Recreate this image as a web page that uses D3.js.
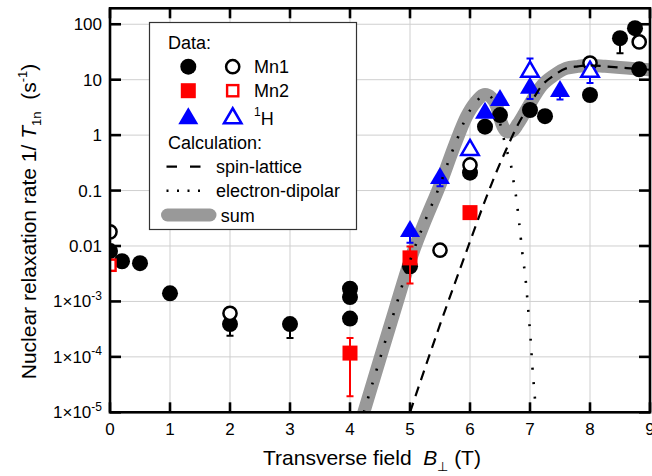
<!DOCTYPE html>
<html><head><meta charset="utf-8">
<script src="https://cdn.jsdelivr.net/npm/d3@7"></script>
<style>
body{margin:0;background:#fff}
svg{display:block}
text{font-family:"Liberation Sans",Arial,Helvetica,sans-serif;fill:#000}
</style>
</head><body>
<svg id="c" width="652" height="476"></svg>
<script>
// ---------- data ----------
const xTicks = [0,1,2,3,4,5,6,7,8,9];
const yTicks = [1e-5,1e-4,1e-3,0.01,0.1,1,10,100];
const yTickLabels = [["1×10","-5"],["1×10","-4"],["1×10","-3"],["0.01"],["0.1"],["1"],["10"],["100"]];
const xDomain = [0, 9];
const yDomain = [1e-5, 194];

// Mn1 filled circles
const mn1Filled = [
  {x:0, y:0.0081, hi:0.0105},
  {x:0.2, y:0.0053},
  {x:0.5, y:0.0049},
  {x:1, y:0.0014},
  {x:2, y:0.00039, lo:0.00024},
  {x:3, y:0.00039, lo:0.00022},
  {x:4, y:0.0017},
  {x:4, y:0.0012},
  {x:4, y:0.00049},
  {x:5, y:0.0043},
  {x:6, y:0.21},
  {x:6.25, y:1.42},
  {x:6.5, y:2.3},
  {x:7, y:2.84},
  {x:7.25, y:2.2},
  {x:8, y:5.3},
  {x:8.5, y:56, lo:30},
  {x:8.75, y:85},
  {x:8.82, y:15.4}
];
// Mn1 open circles
const mn1Open = [
  {x:0, y:0.018},
  {x:2, y:0.00061},
  {x:5.5, y:0.0084},
  {x:6, y:0.29},
  {x:8, y:20},
  {x:8.82, y:48}
];
// Mn2 filled squares
const mn2Filled = [
  {x:4, y:0.000117, lo:0.0000195, hi:0.00022},
  {x:5, y:0.0061, lo:0.0021, hi:0.0098},
  {x:6, y:0.040}
];
// Mn2 open squares
const mn2Open = [
  {x:0, y:0.0045}
];
// 1H filled triangles
const hFilled = [
  {x:5, y:0.020, lo:0.0115},
  {x:5.5, y:0.18, lo:0.12},
  {x:6.25, y:2.7},
  {x:6.5, y:4.6},
  {x:7, y:7.7, lo:4.5},
  {x:7.5, y:6.7, lo:4.4}
];
// 1H open triangles
const hOpen = [
  {x:6, y:0.58},
  {x:7, y:15, hi:24},
  {x:8, y:15, lo:8.7}
];

// Calculations
const spinLatticeX = [5.0,5.5,6.0,6.2,6.4,6.6,6.8,7.0,7.2,7.4,7.6,7.8,8.0,8.25,8.5,8.75,9.0];
const spinLatticeY = [1e-5,3.8e-4,0.012,0.047,0.17,0.54,1.55,3.6,7.9,12,16,17.4,18.2,17.4,16.6,15.8,15.1];

const dipolarX = [4.23,4.5,4.75,5.0,5.25,5.5,5.67,5.78,5.94,6.08,6.19,6.3,6.4,6.5,6.61,6.68,6.72,6.76,6.82,6.87,6.93,6.97,7.01,7.04,7.08,7.1];
const dipolarY = [1e-5,9.3e-5,7.2e-4,5.4e-3,0.028,0.126,0.41,0.81,2.14,3.7,4.9,5.2,4.0,1.66,0.54,0.30,0.16,0.089,0.026,0.0079,0.0023,7.2e-4,2.1e-4,6.5e-5,1.9e-5,1e-5];

const sumX = [4.23,4.5,4.75,5.0,5.25,5.5,5.75,5.94,6.1,6.25,6.35,6.45,6.5,6.55,6.62,6.7,6.8,6.9,7.0,7.2,7.4,7.6,7.8,8.0,8.25,8.5,8.75,9.0];
const sumY = [1e-5,9.3e-5,7.2e-4,5.4e-3,0.028,0.126,0.68,2.14,4.0,5.4,4.8,3.2,2.0,1.41,1.14,1.17,1.6,2.4,3.7,7.9,12,16,17.4,18.2,17.4,16.6,15.8,15.1];

// ---------- layout ----------
const L = 110, R = 650, T = 8.3, B = 412.3;
const svg = d3.select("#c");
const x = d3.scaleLinear().domain(xDomain).range([L, R]);
const y = d3.scaleLog().domain(yDomain).range([B, T]);

svg.append("defs").append("clipPath").attr("id","plotclip")
  .append("rect").attr("x",L).attr("y",T).attr("width",R-L).attr("height",B-T);

// grid
const grid = svg.append("g");
grid.selectAll("line.gx").data(xTicks.filter(d=>d>0 && d<9)).enter().append("line")
  .attr("x1",d=>x(d)).attr("x2",d=>x(d)).attr("y1",T).attr("y2",B)
  .attr("stroke","#cfcfcf").attr("stroke-width",1);
grid.selectAll("line.gy").data(yTicks.filter(d=>d>1e-5)).enter().append("line")
  .attr("y1",d=>y(d)).attr("y2",d=>y(d)).attr("x1",L).attr("x2",R)
  .attr("stroke","#cfcfcf").attr("stroke-width",1);

const plot = svg.append("g").attr("clip-path","url(#plotclip)");

// sum band
const mkLine = (xs, ys) => d3.line().x((d,i)=>x(xs[i])).y((d,i)=>y(ys[i])).curve(d3.curveMonotoneX)(xs);
plot.append("path").attr("d", mkLine(sumX,sumY))
  .attr("fill","none").attr("stroke","#999999").attr("stroke-width",13).attr("stroke-linecap","round").attr("stroke-linejoin","round");

// markers helpers
function errBars(g, data, color){
  data.forEach(d=>{
    const lo = d.lo !== undefined ? d.lo : d.y;
    const hi = d.hi !== undefined ? d.hi : d.y;
    if (lo === hi) return;
    g.append("line").attr("x1",x(d.x)).attr("x2",x(d.x)).attr("y1",y(lo)).attr("y2",y(hi))
      .attr("stroke",color).attr("stroke-width",2);
    if (d.lo !== undefined) g.append("line").attr("x1",x(d.x)-3.5).attr("x2",x(d.x)+3.5).attr("y1",y(d.lo)).attr("y2",y(d.lo)).attr("stroke",color).attr("stroke-width",2);
    if (d.hi !== undefined) g.append("line").attr("x1",x(d.x)-3.5).attr("x2",x(d.x)+3.5).attr("y1",y(d.hi)).attr("y2",y(d.hi)).attr("stroke",color).attr("stroke-width",2);
  });
}
function triPath(cx, cy, w, h){
  return `M${cx},${cy-h*0.55}L${cx+w/2},${cy+h*0.45}L${cx-w/2},${cy+h*0.45}Z`;
}
function drawFilledCircle(g,cx,cy){ g.append("circle").attr("cx",cx).attr("cy",cy).attr("r",8).attr("fill","#000"); }
function drawOpenCircle(g,cx,cy){ g.append("circle").attr("cx",cx).attr("cy",cy).attr("r",6.6).attr("fill","#fff").attr("stroke","#000").attr("stroke-width",2.5); }
function drawFilledSquare(g,cx,cy){ g.append("rect").attr("x",cx-7.5).attr("y",cy-7.5).attr("width",15).attr("height",15).attr("fill","#ff0000"); }
function drawOpenSquare(g,cx,cy){ g.append("rect").attr("x",cx-5.6).attr("y",cy-5.6).attr("width",11.2).attr("height",11.2).attr("fill","#fff").attr("stroke","#ff0000").attr("stroke-width",2.4); }
function drawFilledTri(g,cx,cy){ g.append("path").attr("d",triPath(cx,cy,20,17)).attr("fill","#0000ff"); }
function drawOpenTri(g,cx,cy){ g.append("path").attr("d",triPath(cx,cy,17.5,15)).attr("fill","#fff").attr("stroke","#0000ff").attr("stroke-width",2.5).attr("stroke-linejoin","miter"); }

const pts = plot.append("g");
errBars(pts, mn1Filled, "#000");
mn1Filled.forEach(d=>drawFilledCircle(pts,x(d.x),y(d.y)));
mn1Open.forEach(d=>drawOpenCircle(pts,x(d.x),y(d.y)));
errBars(pts, mn2Filled, "#ff0000");
mn2Filled.forEach(d=>drawFilledSquare(pts,x(d.x),y(d.y)));
mn2Open.forEach(d=>drawOpenSquare(pts,x(d.x),y(d.y)));
errBars(pts, hFilled, "#0000ff");
hFilled.forEach(d=>drawFilledTri(pts,x(d.x),y(d.y)));
errBars(pts, hOpen, "#0000ff");
hOpen.forEach(d=>drawOpenTri(pts,x(d.x),y(d.y)));

// calculation lines
plot.append("path").attr("d", mkLine(spinLatticeX,spinLatticeY))
  .attr("fill","none").attr("stroke","#000").attr("stroke-width",2.2).attr("stroke-dasharray","10,7");
plot.append("path").attr("d", mkLine(dipolarX,dipolarY))
  .attr("fill","none").attr("stroke","#000").attr("stroke-width",2.6).attr("stroke-dasharray","2,12.5");

// frame
svg.append("rect").attr("x",L).attr("y",T).attr("width",R-L).attr("height",B-T)
  .attr("fill","none").attr("stroke","#000").attr("stroke-width",2.6);

// ticks (inward, all four sides)
const tk = svg.append("g").attr("stroke","#000").attr("stroke-width",2.6);
xTicks.forEach(v=>{
  tk.append("line").attr("x1",x(v)).attr("x2",x(v)).attr("y1",B).attr("y2",B-10);
  tk.append("line").attr("x1",x(v)).attr("x2",x(v)).attr("y1",T).attr("y2",T+10);
});
yTicks.forEach(v=>{
  tk.append("line").attr("y1",y(v)).attr("y2",y(v)).attr("x1",L).attr("x2",L+11);
  tk.append("line").attr("y1",y(v)).attr("y2",y(v)).attr("x1",R).attr("x2",R-11);
});

// tick labels
svg.selectAll("text.xt").data(xTicks).enter().append("text")
  .attr("x",d=>x(d)).attr("y",435).attr("text-anchor","middle").attr("font-size",17).text(d=>d);
yTicks.forEach((v,i)=>{
  const t = svg.append("text").attr("x",102).attr("y",y(v)).attr("dy","0.35em").attr("text-anchor","end").attr("font-size",17);
  const lab = yTickLabels[i];
  t.append("tspan").text(lab[0]);
  if (lab.length>1) t.append("tspan").attr("font-size",12).attr("dy",-7.5).text(lab[1]);
});

// axis titles
const xt = svg.append("text").attr("x",263).attr("y",465).attr("font-size",21);
xt.append("tspan").text("Transverse field\u00a0\u00a0");
xt.append("tspan").attr("font-style","italic").text("B");
xt.append("tspan").attr("font-size",13).attr("dy",6).text("⊥");
xt.append("tspan").attr("dy",-6).text("\u00a0(T)");

const yt = svg.append("text").attr("transform","translate(36,221.5) rotate(-90)").attr("text-anchor","middle").attr("font-size",21);
yt.append("tspan").text("Nuclear relaxation rate 1/\u00a0");
yt.append("tspan").attr("font-style","italic").text("T");
yt.append("tspan").attr("font-size",13).attr("dy",5).text("1n");
yt.append("tspan").attr("dy",-5).text("\u00a0\u00a0(s");
yt.append("tspan").attr("font-size",13).attr("dy",-9).text("-1");
yt.append("tspan").attr("dy",9).text(")");

// legend
const lg = svg.append("g");
lg.append("rect").attr("x",149.5).attr("y",22.5).attr("width",207).attr("height",207)
  .attr("fill","#fff").attr("stroke","#333").attr("stroke-width",1.2);
const c1 = 188.3, c2 = 232.7, tx = 254;
lg.append("text").attr("x",168).attr("y",49.3).attr("font-size",18).text("Data:");
drawFilledCircle(lg,c1,66.7); drawOpenCircle(lg,c2,66.7);
lg.append("text").attr("x",tx).attr("y",73.3).attr("font-size",18).text("Mn1");
drawFilledSquare(lg,c1,90.7); drawOpenSquare(lg,c2,90.7);
lg.append("text").attr("x",tx).attr("y",97.3).attr("font-size",18).text("Mn2");
drawFilledTri(lg,c1,116.5); drawOpenTri(lg,c2,116.5);
const ht = lg.append("text").attr("x",tx).attr("y",125).attr("font-size",18);
ht.append("tspan").attr("font-size",12).attr("dy",-9).text("1");
ht.append("tspan").attr("dy",9).text("H");
lg.append("text").attr("x",168).attr("y",149.3).attr("font-size",18).text("Calculation:");
lg.append("line").attr("x1",166.5).attr("x2",202).attr("y1",166.7).attr("y2",166.7)
  .attr("stroke","#000").attr("stroke-width",2.2).attr("stroke-dasharray","10.5,13");
lg.append("text").attr("x",216).attr("y",173.3).attr("font-size",18).text("spin-lattice");
lg.append("line").attr("x1",166.5).attr("x2",200).attr("y1",190.7).attr("y2",190.7)
  .attr("stroke","#000").attr("stroke-width",2.6).attr("stroke-dasharray","2,8.5");
lg.append("text").attr("x",216).attr("y",196.7).attr("font-size",18).text("electron-dipolar");
lg.append("line").attr("x1",167.5).attr("x2",210).attr("y1",215).attr("y2",215)
  .attr("stroke","#999999").attr("stroke-width",13).attr("stroke-linecap","round");
lg.append("text").attr("x",220.7).attr("y",221.7).attr("font-size",18).text("sum");
</script>
</body></html>
